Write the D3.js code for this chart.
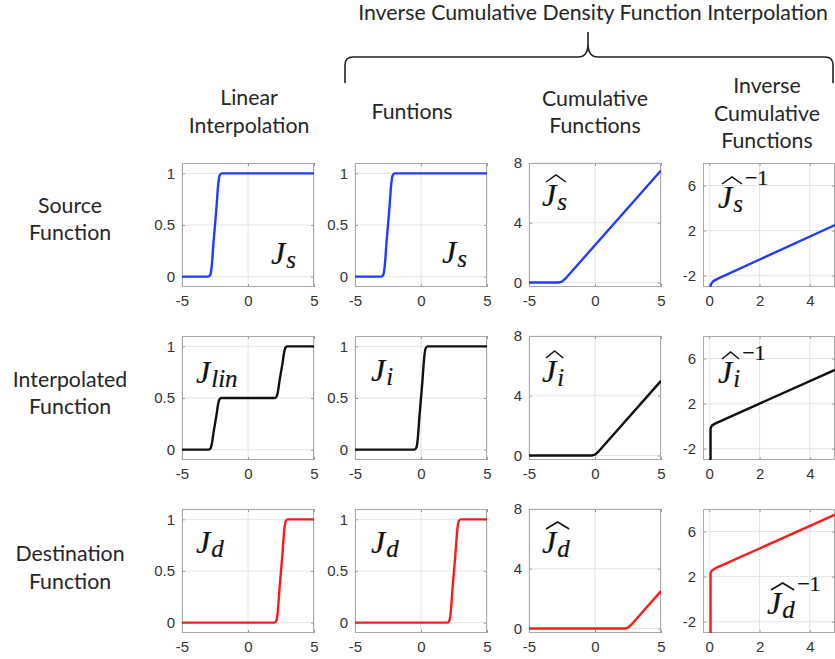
<!DOCTYPE html>
<html>
<head>
<meta charset="utf-8">
<script src="https://cdn.jsdelivr.net/npm/d3@7"></script>
<style>
  html, body { margin: 0; padding: 0; background: #fff; }
  svg { display: block; }
</style>
</head>
<body>
<svg id="fig" width="835" height="659"></svg>
<script>
// ---------- data: step functions J ----------
const srcX = [-5, -3.0, -2.85, -2.75, -2.6, -2.5, -2.4, -2.25, -2.15, -2.0, 5];
const srcY = [0, 0, 0.02, 0.1, 0.35, 0.5, 0.65, 0.9, 0.98, 1, 1];
const intX = [-5, -0.5, -0.35, -0.25, -0.1, 0, 0.1, 0.25, 0.35, 0.5, 5];
const intY = [0, 0, 0.02, 0.1, 0.35, 0.5, 0.65, 0.9, 0.98, 1, 1];
const dstX = [-5, 2.0, 2.15, 2.25, 2.4, 2.5, 2.6, 2.75, 2.85, 3.0, 5];
const dstY = [0, 0, 0.02, 0.1, 0.35, 0.5, 0.65, 0.9, 0.98, 1, 1];
const linX = [-5, -3.0, -2.85, -2.75, -2.6, -2.5, -2.4, -2.25, -2.15, -2.0,
              2.0, 2.15, 2.25, 2.4, 2.5, 2.6, 2.75, 2.85, 3.0, 5];
const linY = [0, 0, 0.01, 0.05, 0.175, 0.25, 0.325, 0.45, 0.49, 0.5,
              0.5, 0.51, 0.55, 0.675, 0.75, 0.825, 0.95, 0.99, 1, 1];

// ---------- data: cumulative functions Ĵ ----------
const cumSX = [-5, -2.75, -2.5, -2.25, 5];
const cumSY = [0, 0, 0.06, 0.25, 7.5];
const cumIX = [-5, -0.25, 0, 0.25, 5];
const cumIY = [0, 0, 0.06, 0.25, 5];
const cumDX = [-5, 2.25, 2.5, 2.75, 5];
const cumDY = [0, 0, 0.06, 0.25, 2.5];

// ---------- data: inverse cumulative functions Ĵ⁻¹ ----------
const invSX = [0.05, 0.05, 0.08, 0.15, 0.3, 5];
const invSY = [-5, -2.9, -2.7, -2.5, -2.3, 2.5];
const invIX = [0.05, 0.05, 0.1, 0.25, 5];
const invIY = [-5, -0.2, 0.05, 0.25, 5];
const invDX = [0.05, 0.05, 0.1, 0.25, 5];
const invDY = [-5, 2.3, 2.55, 2.75, 7.5];

// ---------- axes: domains and tick values ----------
const fnXDomain = [-5, 5],   fnYDomain = [-0.1, 1.1];
const cumXDomain = [-5, 5],  cumYDomain = [-0.3, 8];
const invXDomain = [-0.25, 5], invYDomain = [-3, 8];
const fnXTicks = [-5, 0, 5],  fnYTicks = [0, 0.5, 1];
const cumXTicks = [-5, 0, 5], cumYTicks = [0, 4, 8];
const invXTicks = [0, 2, 4],  invYTicks = [-2, 2, 6];

// ---------- text ----------
const titleText = "Inverse Cumulative Density Function Interpolation";
const colHeaders = [
  ["Linear", "Interpolation"],
  ["Funtions"],
  ["Cumulative", "Functions"],
  ["Inverse", "Cumulative", "Functions"]
];
const rowHeaders = [
  ["Source", "Function"],
  ["Interpolated", "Function"],
  ["Destination", "Function"]
];

// ---------- layout ----------
const colLeft = [182, 355, 529, 703];
const rowTop = [163, 336, 509];
const boxW = 132, boxH = 124;
const blue = "#1f3cff", black = "#111111", red = "#ff1a1a";
const headerFont = "Lato, 'Open Sans', 'Liberation Sans', sans-serif";
const tickFont = "'Liberation Sans', Arial, Helvetica, sans-serif";
const mathFont = "'Liberation Serif', 'DejaVu Serif', serif";

const kinds = {
  fn:  {xd: fnXDomain,  yd: fnYDomain,  xt: fnXTicks,  yt: fnYTicks,  curve: d3.curveMonotoneX},
  cum: {xd: cumXDomain, yd: cumYDomain, xt: cumXTicks, yt: cumYTicks, curve: d3.curveLinear},
  inv: {xd: invXDomain, yd: invYDomain, xt: invXTicks, yt: invYTicks, curve: d3.curveLinear}
};

// label: subscript, hat, superscript; pos = [dx from box left, baseline from box top]
const panels = [
  {r:0, c:0, kind:"fn",  xs:srcX,  ys:srcY,  color:blue,  sub:"s",   hat:false, sup:false, pos:[89, 101]},
  {r:0, c:1, kind:"fn",  xs:srcX,  ys:srcY,  color:blue,  sub:"s",   hat:false, sup:false, pos:[87, 100]},
  {r:0, c:2, kind:"cum", xs:cumSX, ys:cumSY, color:blue,  sub:"s",   hat:true,  sup:false, pos:[13, 43]},
  {r:0, c:3, kind:"inv", xs:invSX, ys:invSY, color:blue,  sub:"s",   hat:true,  sup:true,  pos:[15, 45]},
  {r:1, c:0, kind:"fn",  xs:linX,  ys:linY,  color:black, sub:"lin", hat:false, sup:false, pos:[14, 47]},
  {r:1, c:1, kind:"fn",  xs:intX,  ys:intY,  color:black, sub:"i",   hat:false, sup:false, pos:[16, 45]},
  {r:1, c:2, kind:"cum", xs:cumIX, ys:cumIY, color:black, sub:"i",   hat:true,  sup:false, pos:[13, 46]},
  {r:1, c:3, kind:"inv", xs:invIX, ys:invIY, color:black, sub:"i",   hat:true,  sup:true,  pos:[15, 47]},
  {r:2, c:0, kind:"fn",  xs:dstX,  ys:dstY,  color:red,   sub:"d",   hat:false, sup:false, pos:[14, 44]},
  {r:2, c:1, kind:"fn",  xs:dstX,  ys:dstY,  color:red,   sub:"d",   hat:false, sup:false, pos:[16, 44]},
  {r:2, c:2, kind:"cum", xs:cumDX, ys:cumDY, color:red,   sub:"d",   hat:true,  sup:false, pos:[13, 44]},
  {r:2, c:3, kind:"inv", xs:invDX, ys:invDY, color:red,   sub:"d",   hat:true,  sup:true,  pos:[64, 105]}
];

const svg = d3.select("#fig");
const defs = svg.append("defs");

// ---------- headers ----------
const textCol = "#262626";
const title = svg.append("text")
  .attr("x", 593).attr("y", 20)
  .attr("text-anchor", "middle")
  .attr("font-family", headerFont).attr("font-size", 20)
  .attr("fill", textCol).text(titleText);
// size the header font so the title spans its bracket
const headerSize = 20 * 470 / title.node().getComputedTextLength();
title.attr("font-size", headerSize);

// curly bracket under the title
svg.append("path")
  .attr("d", "M345,83 L345,65 Q345,57 353,57 L578,57 Q588,57 588,44 L588,32 " +
             "M588,44 Q588,57 598,57 L825,57 Q833,57 833,65 L833,83")
  .attr("fill", "none").attr("stroke", "#222").attr("stroke-width", 1.6);

const colHeaderX = [249, 412, 595, 767];
const colHeaderY = [[105, 133], [119], [106, 133], [93, 121, 148]];
colHeaders.forEach((lines, c) => {
  lines.forEach((s, i) => {
    svg.append("text")
      .attr("x", colHeaderX[c]).attr("y", colHeaderY[c][i])
      .attr("text-anchor", "middle")
      .attr("font-family", headerFont).attr("font-size", headerSize)
      .attr("fill", textCol).text(s);
  });
});

const rowHeaderY = [[213, 240], [387, 414], [561, 589]];
rowHeaders.forEach((lines, r) => {
  lines.forEach((s, i) => {
    svg.append("text")
      .attr("x", 70).attr("y", rowHeaderY[r][i])
      .attr("text-anchor", "middle")
      .attr("font-family", headerFont).attr("font-size", headerSize)
      .attr("fill", textCol).text(s);
  });
});

// ---------- panels ----------
const fmt = d => String(d);   // plain hyphen minus on tick labels
panels.forEach((p, idx) => {
  const k = kinds[p.kind];
  const x = d3.scaleLinear().domain(k.xd).range([0, boxW]);
  const y = d3.scaleLinear().domain(k.yd).range([boxH, 0]);
  const g = svg.append("g").attr("transform", `translate(${colLeft[p.c]},${rowTop[p.r]})`);

  // grid
  g.append("g").selectAll("line").data(k.xt).join("line")
    .attr("x1", d => x(d)).attr("x2", d => x(d)).attr("y1", 0).attr("y2", boxH)
    .attr("stroke", "#e4e4e4").attr("stroke-width", 1);
  g.append("g").selectAll("line").data(k.yt).join("line")
    .attr("y1", d => y(d)).attr("y2", d => y(d)).attr("x1", 0).attr("x2", boxW)
    .attr("stroke", "#e4e4e4").attr("stroke-width", 1);

  // axes with inward ticks
  const ax = g.append("g").attr("transform", `translate(0,${boxH})`)
    .call(d3.axisBottom(x).tickValues(k.xt).tickFormat(fmt).tickSizeInner(-3).tickSizeOuter(0).tickPadding(8));
  const ay = g.append("g")
    .call(d3.axisLeft(y).tickValues(k.yt).tickFormat(fmt).tickSizeInner(-3).tickSizeOuter(0).tickPadding(7));
  const axTop = g.append("g")
    .call(d3.axisTop(x).tickValues(k.xt).tickFormat("").tickSizeInner(-3).tickSizeOuter(0));
  const ayRight = g.append("g").attr("transform", `translate(${boxW},0)`)
    .call(d3.axisRight(y).tickValues(k.yt).tickFormat("").tickSizeInner(-3).tickSizeOuter(0));
  [ax, ay, axTop, ayRight].forEach(a => {
    a.select(".domain").remove();
    a.selectAll(".tick line").attr("stroke", "#9a9a9a");
    a.selectAll(".tick text").attr("font-family", tickFont).attr("font-size", 15).attr("fill", "#333");
  });

  // box
  g.append("rect").attr("x", 0.5).attr("y", 0.5).attr("width", boxW - 1).attr("height", boxH - 1)
    .attr("fill", "none").attr("stroke", "#a8a8a8").attr("stroke-width", 1);

  // curve
  const cid = "clip" + idx;
  defs.append("clipPath").attr("id", cid)
    .append("rect").attr("x", 0).attr("y", 0).attr("width", boxW).attr("height", boxH);
  const pts = p.xs.map((v, i) => [v, p.ys[i]]);
  g.append("path")
    .attr("clip-path", `url(#${cid})`)
    .attr("d", d3.line().x(d => x(d[0])).y(d => y(d[1])).curve(k.curve)(pts))
    .attr("fill", "none").attr("stroke", p.color).attr("stroke-width", 2.4)
    .attr("stroke-linejoin", "round").attr("stroke-linecap", "butt");

  // math label
  const lx = p.pos[0], ly = p.pos[1];
  const t = g.append("text").attr("x", lx).attr("y", ly)
    .attr("font-family", mathFont).attr("font-style", "italic").attr("fill", "#111")
    .attr("stroke", "#111").attr("stroke-width", 0.2);
  t.append("tspan").attr("font-size", 32).text("J");
  t.append("tspan").attr("font-size", 25).attr("dy", 4).attr("dx", 1).text(p.sub);
  const bb = t.node().getBBox();
  if (p.sup) {
    g.append("text").attr("x", bb.x + bb.width + 2).attr("y", ly - 23)
      .attr("font-family", mathFont).attr("font-size", 22).attr("fill", "#111")
      .attr("stroke", "#111").attr("stroke-width", 0.2)
      .text("\u22121");
  }
  if (p.hat) {
    const top = ly - 22;
    const h0 = lx + 4, h1 = bb.x + bb.width - 1;
    g.append("path")
      .attr("d", `M${h0},${top - 2} L${(h0 + h1) / 2},${top - 9} L${h1},${top - 2}`)
      .attr("fill", "none").attr("stroke", "#111").attr("stroke-width", 1.5)
      .attr("stroke-linejoin", "miter");
  }
});
</script>
</body>
</html>
